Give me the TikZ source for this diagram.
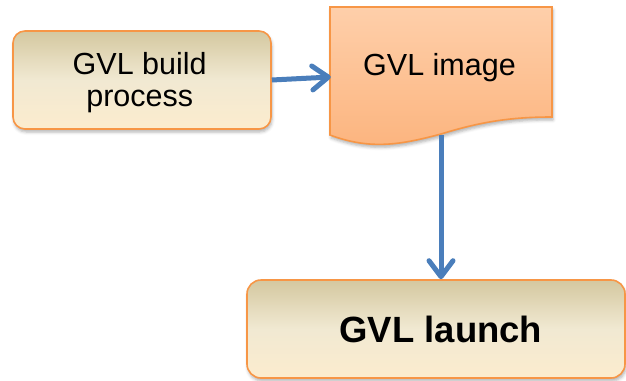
\documentclass[tikz,border=0pt]{standalone}
\usepackage{fontspec}
\setmainfont{Liberation Sans}
\usetikzlibrary{arrows.meta,calc,shadows.blur}
\definecolor{boxtop}{RGB}{212,200,160}
\definecolor{boxmid}{RGB}{241,233,210}
\definecolor{boxbot}{RGB}{252,236,206}
\definecolor{doctop}{RGB}{254,207,170}
\definecolor{docbot}{RGB}{252,180,126}
\definecolor{edgeorange}{RGB}{247,150,70}
\definecolor{arrowblue}{RGB}{74,126,187}
\tikzset{
  procbox/.style={draw=edgeorange, line width=1.6pt, rounded corners=12pt,
    top color=boxtop, bottom color=boxbot, middle color=boxmid,
    blur shadow={shadow xshift=1pt, shadow yshift=-3pt, shadow blur radius=3pt, shadow opacity=30},
    align=center, inner sep=0pt},
  docshape/.style={draw=edgeorange, line width=1.6pt, top color=doctop, bottom color=docbot,
    blur shadow={shadow xshift=1pt, shadow yshift=-3pt, shadow blur radius=3pt, shadow opacity=30}},
  flow/.style={draw=arrowblue, line width=5pt,
    -{Straight Barb[length=16pt, width=24pt, round]}},
}
\begin{document}
\begin{tikzpicture}[x=1pt, y=-1pt]
\useasboundingbox (0,0) rectangle (626,380);
% document shape
\path[docshape] (330,7) -- (552,7) -- (552,117)
  .. controls (510,117) and (480,122) .. (441,134)
  .. controls (400,145) and (370,150) .. (330,135) -- cycle;
\node[minimum width=222pt, minimum height=128pt, inner sep=0pt] (img) at (441,71) {};
\node[font=\fontsize{30.5}{36}\selectfont, inner sep=0pt, anchor=base] (imgtext) at (439.5,75) {GVL image};
% build box
\node[procbox, minimum width=258pt, minimum height=98pt] (build) at (142,80) {};
\node[font=\fontsize{30.5}{32.5}\selectfont, align=center, inner sep=0pt, anchor=base] (buildtext) at (139.7,106.8) {GVL build\\process};
% launch box
\node[procbox, rounded corners=14pt, minimum width=378pt, minimum height=98pt] (launch) at (436,329) {};
\node[font=\fontsize{36.5}{40}\selectfont\bfseries, inner sep=0pt, anchor=base] (launchtext) at (440.8,342.3) {GVL launch};
% connectors
\draw[flow] (build.east) -- ($(img.west)+(1,6)$);
\draw[flow] (img.south) -- (launch.north -| img.south);
\end{tikzpicture}
\end{document}
